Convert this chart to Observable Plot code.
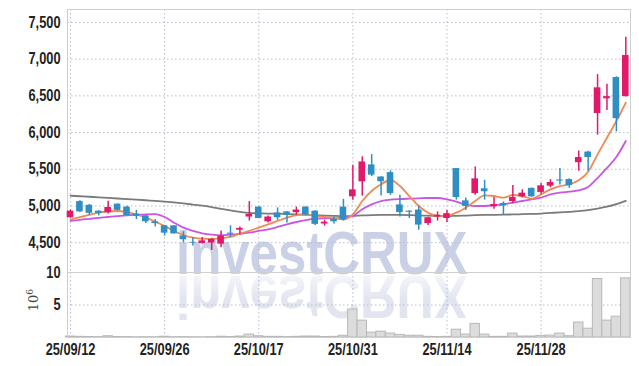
<!DOCTYPE html>
<html>
<head>
<meta charset="utf-8">
<script src="https://cdn.jsdelivr.net/npm/d3@7"></script>
<script src="https://cdn.jsdelivr.net/npm/@observablehq/plot@0.6"></script>
<style>
  body { margin: 0; background: #fff; }
  #wrap { position: relative; width: 639px; height: 366px; overflow: hidden; background: #fff; }
  #wrap svg { position: absolute; left: 0; }
  .wm { position: absolute; left: 176px; white-space: nowrap; font-family: "Liberation Sans", Arial, sans-serif;
        font-weight: bold; font-size: 61px; line-height: 61px; }
  #wm1 { top: 223px; color: #cad0e5; transform-origin: 0 0; transform: scaleX(0.835); }
  #wm2 { top: 223px; color: #e2e5f0; transform-origin: 0 52px; transform: scaleX(0.835) scaleY(-1);
         -webkit-mask-image: linear-gradient(to top, rgba(0,0,0,0.15) 0%, rgba(0,0,0,1) 55%);
         mask-image: linear-gradient(to top, rgba(0,0,0,0.15) 0%, rgba(0,0,0,1) 55%); }
  #vlabel { position: absolute; left: 21px; top: 292px; transform: rotate(-90deg); transform-origin: center;
            font-family: "DejaVu Serif", serif; font-size: 13px; color: #444; width: 24px; text-align: center; }
</style>
</head>
<body>
<div id="wrap">
  <div class="wm" id="wm1">investCRUX</div>
  <div class="wm" id="wm2">investCRUX</div>
  <div id="vlabel">10<sup style="font-size:9px">6</sup></div>
</div>
<script>
const dates = ["25/09/12","25/09/15","25/09/16","25/09/17","25/09/18","25/09/19","25/09/22","25/09/23","25/09/24","25/09/25",
  "25/09/26","25/09/29","25/09/30","25/10/01","25/10/02","25/10/10","25/10/13","25/10/14","25/10/15","25/10/16",
  "25/10/17","25/10/20","25/10/21","25/10/22","25/10/23","25/10/24","25/10/27","25/10/28","25/10/29","25/10/30",
  "25/10/31","25/11/03","25/11/04","25/11/05","25/11/06","25/11/07","25/11/10","25/11/11","25/11/12","25/11/13",
  "25/11/14","25/11/17","25/11/18","25/11/19","25/11/20","25/11/21","25/11/24","25/11/25","25/11/26","25/11/27",
  "25/11/28","25/12/01","25/12/02","25/12/03","25/12/04","25/12/05","25/12/08","25/12/09","25/12/10","25/12/11"];

const opens  = [4840,5060,5010,4930,4910,5025,4985,4890,4865,4785, 4730,4730,4590,4505,4490,4495,4480,4630,4670,4850,
  4985,4785,4905,4920,4910,4985,4930,4755,4820,4985, 5125,5330,5560,5395,5455,5015,4930,4945,4760,4850,
  4830,5510,5070,5170,5235,4990,5035,5060,5125,5240, 5185,5270,5355,5360,5590,5735,6260,6460,6750,6490];
const highs  = [4945,5070,5020,4935,5065,5030,4995,4940,4870,4815, 4735,4730,4650,4570,4570,4560,4660,4730,4715,5060,
  4990,4865,4975,4925,4985,4990,4935,4805,4850,5090, 5555,5670,5700,5400,5480,5145,4935,5000,4845,4920,
  4940,5510,5110,5530,5350,5115,5055,5280,5220,5245, 5305,5360,5510,5370,5750,5745,6790,6660,6760,7300];
const lows   = [4835,4910,4875,4865,4890,4935,4870,4815,4760,4715, 4590,4620,4500,4455,4480,4395,4430,4570,4605,4795,
  4830,4770,4805,4770,4875,4875,4735,4725,4755,4795, 5080,5135,5400,5135,5145,4850,4830,4670,4735,4795,
  4775,5080,4940,5145,5080,4955,4875,5030,5110,5120, 5160,5250,5285,5240,5475,5475,5965,6300,6010,6485];
const closes = [4930,4920,4900,4900,4980,4940,4870,4860,4785,4760, 4630,4620,4540,4495,4525,4545,4590,4615,4695,4885,
  4830,4850,4840,4875,4945,4875,4750,4780,4785,4810, 5220,5600,5420,5330,5170,4910,4915,4740,4840,4875,
  4895,5115,4995,5370,5195,5020,5000,5115,5175,5125, 5275,5320,5340,5280,5660,5660,6610,6490,6190,7050];
// volume, millions of shares
const volumes = [0.15,0.1,0.08,0.05,0.2,0.08,0.06,0.04,0.05,0.04, 0.12,0.05,0.06,0.04,0.03,0.05,0.12,0.08,0.15,0.45,
  0.2,0.1,0.1,0.06,0.1,0.15,0.15,0.08,0.1,0.27, 4.3,2.6,0.75,0.9,0.6,0.4,0.27,0.27,0.1,0.08,
  0.1,1.2,0.45,2.1,0.45,0.1,0.1,0.6,0.15,0.15, 0.25,0.3,0.6,0.2,2.3,1.35,9.0,2.6,3.2,9.1];
// moving-average lines
const ma5  = [4818,4850,4880,4909,4925,4932,4918,4887,4841,4786, 4728,4660,4605,4568,4555,4550,4560,4578,4623,4660,
  4705,4750,4796,4841,4877,4887,4864,4850,4832,4818, 4887,5068,5204,5295,5354,5272,5136,5000,4909,4862,
  4865,4909,4977,5068,5145,5136,5113,5150,5136,5100, 5159,5227,5272,5295,5350,5467,5704,5930,6158,6407];
const ma20 = [4796,4812,4825,4838,4850,4862,4872,4880,4887,4890, 4850,4773,4705,4660,4628,4609,4600,4609,4623,4637,
  4660,4682,4714,4750,4782,4809,4827,4832,4832,4841, 4864,4955,5023,5068,5086,5095,5100,5104,5109,5109,
  5091,5059,5014,5000,5000,5009,5023,5045,5068,5091, 5113,5159,5181,5195,5213,5259,5381,5518,5667,5885];
const ma60 = [5140,5133,5126,5118,5110,5102,5094,5086,5078,5070, 5060,5048,5035,5020,5005,4985,4962,4940,4920,4905,
  4900,4897,4895,4890,4885,4880,4876,4870,4865,4862, 4865,4872,4876,4878,4878,4878,4876,4872,4868,4864,
  4862,4866,4870,4875,4878,4880,4882,4885,4888,4892, 4897,4905,4912,4920,4930,4945,4965,4990,5025,5070];

const priceTicks = [4500,5000,5500,6000,6500,7000,7500];
const volumeTicks = [5,10];
const dateTicks = ["25/09/12","25/09/26","25/10/17","25/10/31","25/11/14","25/11/28"];

const rows = dates.map((d, i) => ({date: d, open: opens[i], high: highs[i], low: lows[i], close: closes[i],
  vol: volumes[i], ma5: ma5[i], ma20: ma20[i], ma60: ma60[i]}));

const UP = "#e2196b", DOWN = "#2f8fc5";
const col = d => d.close >= d.open ? UP : DOWN;
const gridStyle = {stroke: "#b7bccf", strokeOpacity: 1, strokeDasharray: "1.5,2.5"};
const font = {background: "transparent", fontFamily: "'Liberation Sans', Arial, sans-serif", fontSize: "16px",
  fontWeight: "bold", color: "#222"};
const xOpt = {type: "band", domain: dates, range: [65.3, 630], padding: 0, round: false};

const price = Plot.plot({
  width: 639, height: 272, marginTop: 9, marginBottom: 0, marginLeft: 67, marginRight: 9,
  style: font,
  x: {...xOpt, axis: null},
  y: {domain: [4094, 7677]},
  marks: [
    Plot.gridY(priceTicks, gridStyle),
    Plot.gridX(dateTicks, gridStyle),
    Plot.frame({stroke: "#cfcfcf"}),
    Plot.axisY(priceTicks, {tickSize: 0, tickPadding: 7, tickFormat: d3.format(","), fontSize: 16, label: null}),
    Plot.line(rows, {x: "date", y: "ma60", stroke: "#7b7b7b", strokeWidth: 1.8, curve: "monotone-x"}),
    Plot.line(rows, {x: "date", y: "ma20", stroke: "#c956e3", strokeWidth: 1.8, curve: "monotone-x"}),
    Plot.line(rows, {x: "date", y: "ma5", stroke: "#ef8a55", strokeWidth: 1.8, curve: "monotone-x"}),
    Plot.ruleX(rows, {x: "date", y1: "low", y2: "high", stroke: col, strokeWidth: 1.5}),
    Plot.barY(rows, {x: "date", y1: "open", y2: "close", fill: col, insetLeft: 1.4, insetRight: 1.4})
  ]
});
price.style.top = "0px";

const volume = Plot.plot({
  width: 639, height: 102, marginTop: 8, marginBottom: 29, marginLeft: 67, marginRight: 9,
  style: font,
  x: {...xOpt},
  y: {domain: [0, 10]},
  marks: [
    Plot.gridY(volumeTicks, gridStyle),
    Plot.gridX(dateTicks, gridStyle),
    Plot.barY(rows, {x: "date", y: "vol", fill: "#dcdcdc", stroke: "#b8b8b8", strokeWidth: 1}),
    Plot.frame({stroke: "#cfcfcf"}),
    Plot.axisY(volumeTicks, {tickSize: 0, tickPadding: 7, fontSize: 16, label: null}),
    Plot.axisX(dateTicks, {tickSize: 0, tickPadding: 6, fontSize: 16, label: null})
  ]
});
volume.style.top = "264px";

// condense the axis tick labels horizontally (narrow face of the original)
function condense(svg, s) {
  svg.querySelectorAll('g[aria-label$="tick label"] text').forEach(el => {
    const t = el.getAttribute("transform") || "";
    const x = +el.getAttribute("x") || 0;
    el.setAttribute("transform", `${t} translate(${x},0) scale(${s},1) translate(${-x},0)`);
  });
}
condense(price, 0.8);
condense(volume, 0.8);

const wrap = document.getElementById("wrap");
wrap.appendChild(price);
wrap.appendChild(volume);
</script>
</body>
</html>
